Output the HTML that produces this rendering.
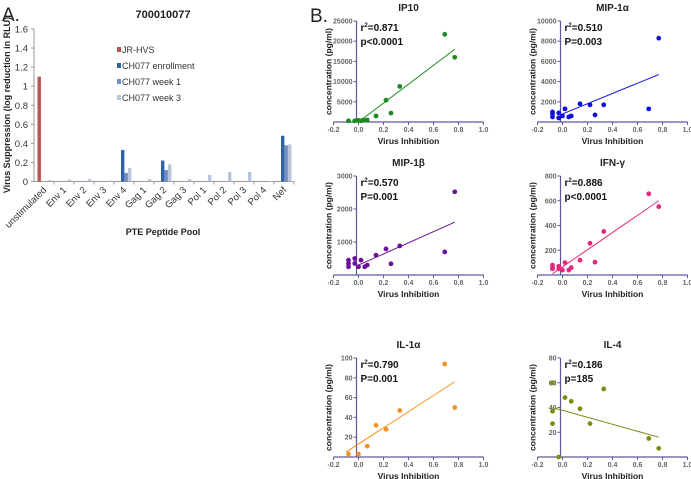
<!DOCTYPE html>
<html><head><meta charset="utf-8"><style>
body{margin:0;background:#fff;}
svg{display:block;font-family:"Liberation Sans",Arial,sans-serif;}
</style></head><body>
<svg id="fig" width="691" height="479" viewBox="0 0 691 479">
<text x="2" y="21" font-size="19" fill="#222">A.</text>
<text x="310" y="22" font-size="19" fill="#222">B.</text>
<g id="bar"></g>
<g id="sc"></g>
</svg>
<script>
const NS="http://www.w3.org/2000/svg";
function mk(p,t,a,txt){const e=document.createElementNS(NS,t);for(const k in a)e.setAttribute(k,a[k]);if(txt!==undefined)e.textContent=txt;p.appendChild(e);return e;}

// ---- Bar chart data ----
const categories=["unstimulated","Env 1","Env 2","Env 3","Env 4","Gag 1","Gag 2","Gag 3","Pol 1","Pol 2","Pol 3","Pol 4","Nef"];
const seriesNames=["JR-HVS","CH077 enrollment","CH077 week 1","CH077 week 3"];
const jrhvs=[1.1,0,0,0,0,0,0,0,0,0,0,0,0];
const enrollment=[0,0,0,0,0.33,0,0.22,0,0,0,0,0,0.48];
const week1=[0,0,0,0,0.09,0,0.12,0,0,0,0,0,0.38];
const week3=[0.015,0.02,0.025,0.01,0.14,0.025,0.18,0.025,0.07,0.1,0.1,0.005,0.39];
const yTicks=[0,0.2,0.4,0.6,0.8,1,1.2,1.4,1.6];

const bar=document.getElementById('bar');
const bx0=34,bx1=294,by0=181.5,by1=29;
const cw=(bx1-bx0)/categories.length;
const ys=v=>by0-(v/1.6)*(by0-by1);
const colors=["#c0504d","#2e64a5","#6f8fc4","#b9c5da"];
const series=[jrhvs,enrollment,week1,week3];
mk(bar,'text',{x:163,y:18,'font-size':11,'font-weight':'bold','text-anchor':'middle',fill:'#222',},"700010077");
mk(bar,'line',{x1:bx0,y1:by1,x2:bx0,y2:by0,stroke:'#999','stroke-width':1,});
mk(bar,'line',{x1:bx0,y1:by0,x2:bx1,y2:by0,stroke:'#999','stroke-width':1,});
yTicks.forEach(t=>{
  const y=ys(t);
  mk(bar,'line',{x1:bx0-3,y1:y,x2:bx0,y2:y,stroke:'#999',});
  mk(bar,'text',{x:bx0-6,y:y+3.5,'font-size':9.5,'text-anchor':'end',fill:'#333',},String(t));
});
categories.forEach((c,i)=>{
  const x=bx0+i*cw;
  mk(bar,'line',{x1:x+cw,y1:by0,x2:x+cw,y2:by0+3,stroke:'#999',});
  const cx=x+cw/2+3, cy=by0+9;
  mk(bar,'text',{x:cx,y:cy,'font-size':9.5,'text-anchor':'end',fill:'#333',transform:`rotate(-45 ${cx} ${cy})`,},c);
  series.forEach((s,k)=>{
    if(s[i]<=0)return;
    const y=ys(s[i]);
    const r=mk(bar,'rect',{x:x+3.5+k*3.5,y:y,width:3.4,height:by0-y,fill:colors[k]});
    
    
  });
});
mk(bar,'text',{x:10,y:105,'font-size':9,'font-weight':'bold','text-anchor':'middle',fill:'#222',transform:'rotate(-90 10 105)',},"Virus Suppression (log reduction in RLU)");
mk(bar,'text',{x:163,y:235,'font-size':9,'font-weight':'bold','text-anchor':'middle',fill:'#222',},"PTE Peptide Pool");
seriesNames.forEach((n,k)=>{
  const y=50+k*16;
  mk(bar,'rect',{x:117,y:y-3,width:4,height:5,fill:colors[k],});
  mk(bar,'text',{x:122,y:y+3,'font-size':9,fill:'#333',},n);
});

// ---- Scatter data ----
const ip10X=[-0.08,-0.03,0.0,0.02,0.04,0.07,0.14,0.22,0.26,0.33,0.69,0.77];
const ip10Y=[300,300,400,300,500,500,1500,5400,2200,8800,21700,16000];
const mip1aX=[-0.08,-0.08,-0.08,-0.03,-0.03,0.0,0.02,0.05,0.07,0.14,0.22,0.26,0.33,0.69,0.77];
const mip1aY=[1000,500,800,900,400,600,1300,500,600,1800,1700,700,1700,1300,8300];
const mip1bX=[-0.08,-0.08,-0.08,-0.03,-0.03,0.0,0.02,0.05,0.07,0.14,0.22,0.26,0.33,0.69,0.77];
const mip1bY=[350,250,450,500,350,250,450,250,300,600,790,340,880,700,2520];
const ifnX=[-0.08,-0.08,-0.08,-0.03,-0.03,0.0,0.02,0.05,0.07,0.14,0.22,0.26,0.33,0.69,0.77];
const ifnY=[80,60,50,70,50,40,100,40,60,120,256,104,352,656,552];
const il1aX=[-0.08,0.0,0.07,0.14,0.22,0.33,0.69,0.77];
const il1aY=[3,3,11,32,28,47,94,50];
const il4X=[-0.08,-0.08,-0.08,-0.03,0.02,0.07,0.14,0.22,0.33,0.69,0.77];
const il4Y=[60,37,27,0,48,45,39,27,55,15,7];
const fitStart=[[0,0],[0,800],[0,300],[-0.08,10],[-0.1,5],[-0.08,40]];
const fitEnd=[[0.77,18000],[0.77,4700],[0.77,1600],[0.77,600],[0.77,76],[0.77,16]];
const panelTitles=["IP10","MIP-1\u03b1","MIP-1\u03b2","IFN-\u03b3","IL-1\u03b1","IL-4"];
const rsq=["0.871","0.510","0.570","0.886","0.790","0.186"];
const pvals=["p<0.0001","P=0.003","P=0.001","p<0.0001","P=0.001","p=185"];
const yMaxes=[25000,10000,3000,800,100,80];
const yTickSets=[[5000,10000,15000,20000,25000],[2000,4000,6000,8000,10000],[1000,2000,3000],[200,400,600,800],[20,40,60,80,100],[20,40,60,80]];
const xTicks=[-0.2,0.0,0.2,0.4,0.6,0.8,1.0];
const xs=[ip10X,mip1aX,mip1bX,ifnX,il1aX,il4X];
const yv=[ip10Y,mip1aY,mip1bY,ifnY,il1aY,il4Y];
const pcolors=["#1e8a1e","#1010e0","#6a0f9a","#e8287f","#f39020","#7f8a10"];

const sc=document.getElementById('sc');
const colX0=[358.5,562.5], rowTop=[21,176,358], rowBase=[122,275,457];
const ux=125;
for(let p=0;p<6;p++){
  const col=p%2,row=Math.floor(p/2);
  const g=mk(sc,'g',{});
  
  
  const x0=colX0[col],top=rowTop[row],base=rowBase[row];
  const X=v=>x0+v*ux, Y=v=>base-(v/yMaxes[p])*(base-top);
  const c=pcolors[p];
  mk(g,'text',{x:x0+50,y:top-10,'font-size':10,'font-weight':'bold','text-anchor':'middle',fill:'#222',},panelTitles[p]);
  mk(g,'line',{x1:X(-0.2),y1:base,x2:X(1.0),y2:base,stroke:'#5a5a9a','stroke-width':1.2,});
  mk(g,'line',{x1:x0-2,y1:top,x2:x0-2,y2:base,stroke:'#5a5a9a','stroke-width':1.2,});
  xTicks.forEach(t=>{
    mk(g,'line',{x1:X(t),y1:base,x2:X(t),y2:base+3,stroke:'#5a5a9a',});
    mk(g,'text',{x:X(t),y:base+10,'font-size':7,'font-weight':'bold','text-anchor':'middle',fill:'#666',},t.toFixed(1));
  });
  yTickSets[p].forEach(t=>{
    mk(g,'line',{x1:x0-5,y1:Y(t),x2:x0-2,y2:Y(t),stroke:'#5a5a9a',});
    mk(g,'text',{x:x0-6,y:Y(t)+2.5,'font-size':7,'font-weight':'bold','text-anchor':'end',fill:'#666',},String(t));
  });
  const tx=x0-27,ty=(top+base)/2;
  mk(g,'text',{x:tx,y:ty,'font-size':8.5,'font-weight':'bold','text-anchor':'middle',fill:'#222',transform:`rotate(-90 ${tx} ${ty})`,},"concentration (pg/ml)");
  mk(g,'text',{x:x0+50,y:base+22,'font-size':8.5,'font-weight':'bold','text-anchor':'middle',fill:'#222',},"Virus Inhibition");
  const r=mk(g,'text',{x:x0+2,y:top+10,'font-size':10,'font-weight':'bold',fill:'#111',},"r");
  mk(r,'tspan',{'font-size':6,dy:-4},"2");
  mk(r,'tspan',{dy:4},"="+rsq[p]);
  mk(g,'text',{x:x0+2,y:top+24,'font-size':10,'font-weight':'bold',fill:'#111',},pvals[p]);
  mk(g,'line',{x1:X(fitStart[p][0]),y1:Y(fitStart[p][1]),x2:X(fitEnd[p][0]),y2:Y(fitEnd[p][1]),stroke:c,'stroke-width':1,});
  xs[p].forEach((v,i)=>{
    const d=mk(g,'circle',{cx:X(v),cy:Y(yv[p][i]),r:2.4,fill:c});
    
    
  });
}
</script>
</body></html>
